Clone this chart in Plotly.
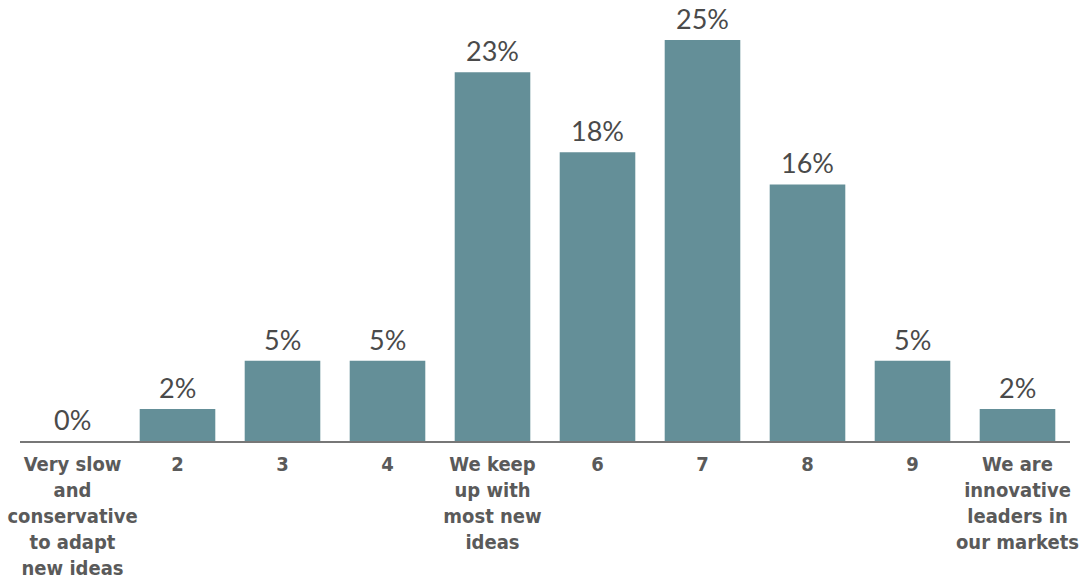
import plotly.graph_objects as go

categories = ["Very slow<br>and<br>conservative<br>to adapt<br>new ideas", "2", "3", "4",
              "We keep<br>up with<br>most new<br>ideas", "6", "7", "8", "9",
              "We are<br>innovative<br>leaders in<br>our markets"]
values = [0, 2, 5, 5, 23, 18, 25, 16, 5, 2]
labels = [f"{v}%" for v in values]

fig = go.Figure(go.Bar(
    x=categories, y=values,
    marker=dict(color="#648f98", line=dict(width=0)),
))
for i, (v, t) in enumerate(zip(values, labels)):
    fig.add_annotation(x=i, y=v, text=t, showarrow=False, yanchor="bottom",
                       yshift=3, font=dict(family="Lato", size=27, color="#4a4a4a"))
fig.update_layout(
    width=1086, height=583,
    margin=dict(l=20, r=16, t=0, b=142),
    plot_bgcolor="white", paper_bgcolor="white",
    bargap=0.28, showlegend=False,
    xaxis=dict(showline=True, linecolor="#777777", linewidth=2, ticks="",
               tickfont=dict(family="DejaVu Sans Condensed", size=20, color="#5a5a5a", weight="bold"),
               tickangle=0, ticklabelstandoff=4),
    yaxis=dict(visible=False, range=[0, 27.5], showgrid=False, zeroline=False),
)
fig.write_html("out.html")
